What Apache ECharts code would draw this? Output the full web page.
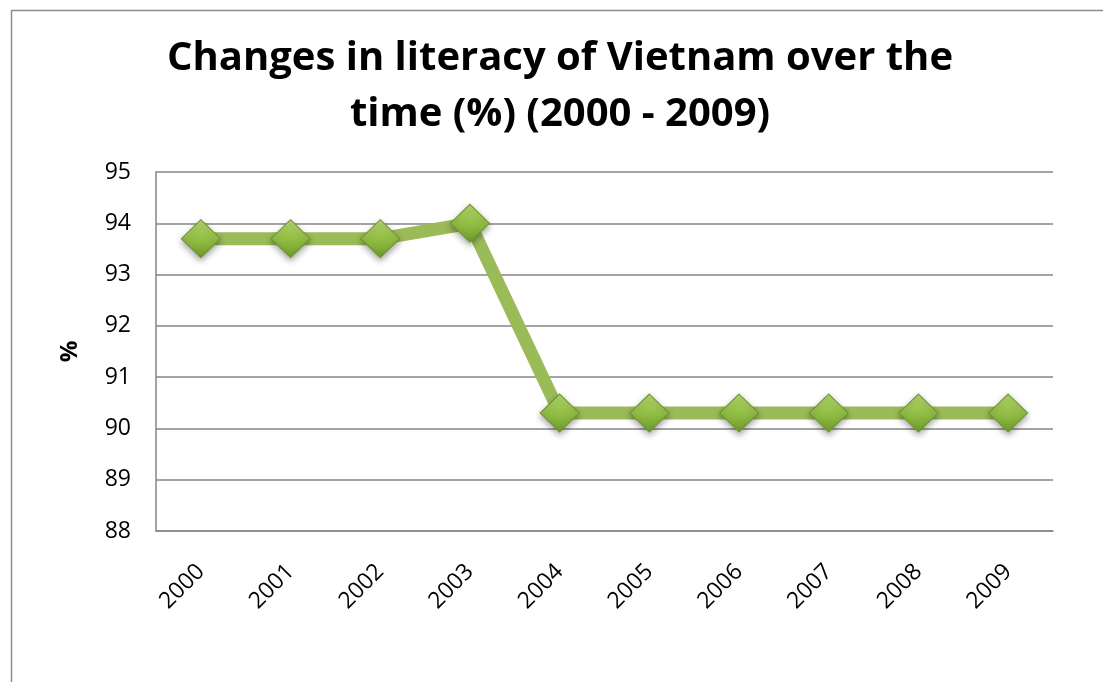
<!DOCTYPE html>
<html>
<head>
<meta charset="utf-8">
<script src="https://cdn.jsdelivr.net/npm/echarts@6/dist/echarts.min.js"></script>
<style>
html,body{margin:0;padding:0;background:#fff;}
#c{width:1103px;height:682px;}
</style>
</head>
<body>
<div id="c"></div>
<script>
const titleText = 'Changes in literacy of Vietnam over the\ntime (%) (2000 - 2009)';
const years = ['2000','2001','2002','2003','2004','2005','2006','2007','2008','2009'];
const literacy = [93.7, 93.7, 93.7, 94.0, 90.3, 90.3, 90.3, 90.3, 90.3, 90.3];
const yMin = 88, yMax = 95, yStep = 1;
const yName = '%';

const chart = echarts.init(document.getElementById('c'));
const font = '"Open Sans", Lato, sans-serif';
chart.setOption({
  animation: false,
  backgroundColor: '#fff',
  graphic: [{
    type: 'rect', left: 9, top: 8, silent: true,
    shape: {width: 1200, height: 800},
    style: {fill: 'none', stroke: '#8c8c8c', lineWidth: 1.5}
  }],
  title: {
    text: titleText, left: 555, textAlign: 'center', top: 26,
    textStyle: {fontFamily: font, fontWeight: 'bold', fontSize: 40, lineHeight: 56, color: '#000'}
  },
  grid: {left: 156, top: 172, right: 50, bottom: 151},
  xAxis: {
    type: 'category', data: years, boundaryGap: true,
    axisLine: {lineStyle: {color: '#868686', width: 1.5}},
    axisTick: {show: false},
    axisLabel: {rotate: 45, margin: 37, fontFamily: font, fontSize: 23, color: '#000'}
  },
  yAxis: {
    type: 'value', min: yMin, max: yMax, interval: yStep,
    name: yName, nameLocation: 'middle', nameRotate: 90, nameGap: 74,
    nameTextStyle: {fontFamily: font, fontWeight: 'bold', fontSize: 24, color: '#000'},
    axisLine: {show: true, lineStyle: {color: '#868686', width: 1.5}},
    axisTick: {show: false},
    splitLine: {lineStyle: {color: '#868686', width: 1.5}},
    axisLabel: {margin: 25, fontFamily: font, fontSize: 23, color: '#000'}
  },
  series: [{
    type: 'line', data: literacy,
    lineStyle: {color: '#9bbb59', width: 13},
    symbol: 'diamond', symbolSize: [39, 38],
    itemStyle: {
      color: {type: 'linear', x: 0, y: 0, x2: 0, y2: 1, colorStops: [
        {offset: 0, color: '#b6da6e'}, {offset: 0.5, color: '#93bf45'}, {offset: 1, color: '#6e9a2a'}]},
      borderColor: '#6f9533', borderWidth: 1,
      shadowColor: 'rgba(0,0,0,0.35)', shadowBlur: 6, shadowOffsetY: 3
    }
  }]
});
</script>
</body>
</html>
